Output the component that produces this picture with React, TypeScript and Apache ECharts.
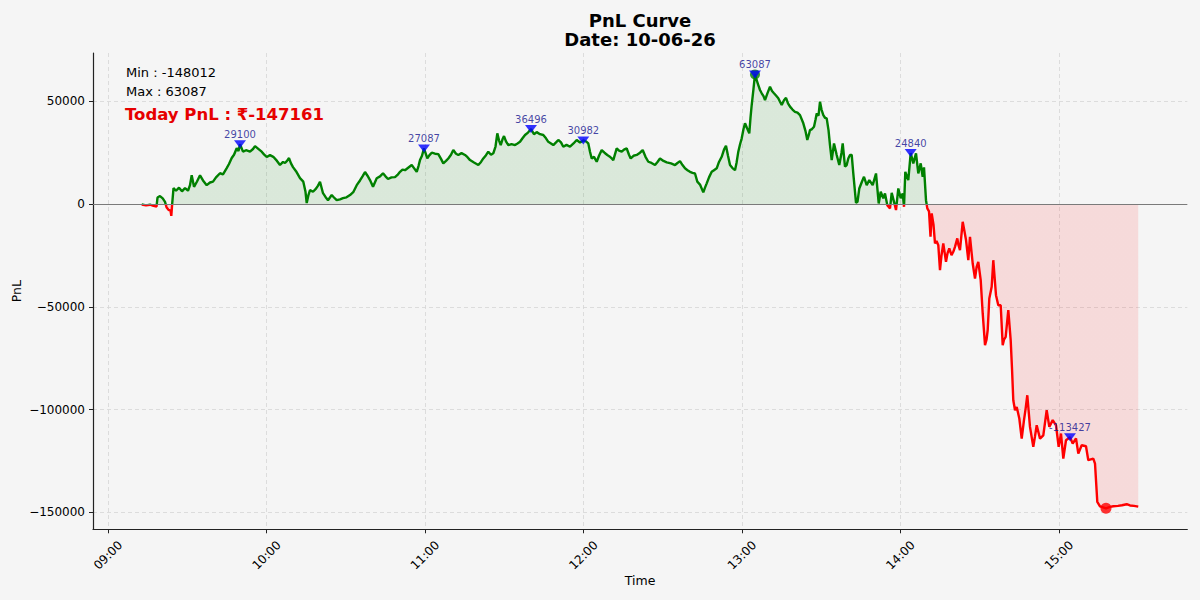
import React, { useEffect, useRef } from "react";
import * as echarts from "echarts";

// Minutes elapsed since 09:00 for each sample
const minutesSince0900: number[] = [
  12.76, 14.38, 15.9, 17.22, 18.36, 18.74, 19.68, 20.71, 21.58, 22.15, 22.9, 23.66, 23.96, 24.34, 24.8,
  25.74, 26.88, 28.01, 29.15, 30.28, 31.04, 31.68, 32.56, 33.69, 34.83, 35.96, 37.36, 38.61, 39.75, 40.88,
  42.4, 43.53, 44.93, 45.8, 46.83, 47.7, 48.72, 49.4, 49.97, 51.1, 52.24, 53.75, 54.89, 55.65, 56.78,
  58.18, 59.05, 60.08, 61.33, 62.57, 63.97, 65.11, 66.25, 67.0, 67.76, 68.52, 69.27, 70.03, 71.17, 72.68,
  73.93, 74.76, 75.22, 75.9, 76.47, 77.6, 78.74, 79.5, 80.25, 81.39, 82.33, 83.28, 84.68, 85.55, 86.57,
  87.82, 88.96, 90.28, 91.61, 92.93, 94.15, 95.39, 96.34, 97.29, 98.23, 99.18, 100.32, 101.72, 102.97, 104.1,
  105.05, 105.99, 107.32, 108.64, 109.59, 110.54, 111.48, 112.43, 113.75, 114.97, 115.84, 116.86, 117.54, 118.11, 118.86,
  119.62, 120.87, 121.7, 122.54, 123.79, 125.03, 126.06, 126.93, 127.95, 128.82, 129.84, 130.71, 131.74, 132.61, 133.82,
  135.14, 136.09, 137.04, 138.55, 140.18, 141.2, 142.07, 143.09, 143.96, 144.98, 145.85, 146.69, 147.37, 148.01, 148.66,
  149.34, 149.91, 150.66, 151.53, 152.75, 154.07, 155.02, 155.96, 156.91, 157.86, 158.99, 160.13, 161.26, 162.28, 163.53,
  164.78, 165.8, 166.67, 167.7, 168.57, 169.59, 170.46, 171.48, 172.35, 173.57, 174.89, 176.21, 177.43, 178.68, 179.93,
  180.95, 181.82, 182.46, 183.1, 183.98, 185.0, 185.87, 186.89, 187.95, 189.01, 189.84, 190.68, 191.28, 192.57, 193.44,
  194.46, 195.33, 196.35, 197.22, 197.87, 198.93, 200.14, 201.39, 202.41, 203.47, 204.53, 205.74, 207.07, 208.01, 208.96,
  210.28, 211.5, 213.12, 214.64, 215.58, 216.53, 217.48, 218.42, 219.37, 220.32, 221.26, 222.21, 223.08, 224.1, 225.35,
  225.99, 226.64, 227.51, 228.53, 229.4, 230.42, 231.29, 232.31, 233.19, 233.94, 234.7, 235.46, 236.4, 237.35, 237.92,
  238.6, 239.24, 239.89, 240.57, 241.14, 241.89, 242.76, 243.22, 243.67, 244.35, 244.92, 245.49, 246.17, 246.81, 247.46,
  248.14, 248.71, 249.65, 250.6, 251.36, 252.11, 252.87, 253.74, 254.39, 255.03, 255.9, 256.66, 257.41, 258.17, 259.12,
  260.06, 261.01, 261.96, 263.21, 264.04, 264.72, 265.36, 265.74, 266.5, 267.26, 267.82, 268.28, 268.96, 269.53, 270.1,
  270.78, 271.42, 272.06, 272.75, 273.31, 273.96, 274.83, 275.85, 276.83, 277.67, 278.12, 278.99, 279.63, 280.24, 280.88,
  281.53, 282.13, 283.16, 283.72, 284.4, 285.43, 286.18, 287.2, 288.19, 289.48, 290.73, 291.75, 292.51, 293.49, 294.13,
  295.0, 296.03, 296.67, 297.54, 298.3, 299.17, 300.08, 300.84, 301.33, 301.82, 302.95, 303.86, 304.85, 305.87, 306.74,
  307.65, 308.4, 308.9, 309.65, 310.15, 310.79, 311.36, 311.81, 312.49, 313.06, 313.63, 314.31, 314.95, 315.52, 316.2,
  317.22, 317.79, 318.47, 319.31, 319.99, 320.63, 321.5, 321.96, 322.52, 323.55, 324.04, 324.8, 325.67, 326.31, 327.33,
  328.2, 328.84, 329.45, 330.36, 331.12, 331.99, 332.56, 333.01, 333.62, 334.52, 335.13, 335.59, 336.15, 337.02, 337.93,
  338.69, 339.18, 339.82, 340.81, 341.71, 342.21, 342.7, 343.35, 343.99, 344.98, 345.88, 346.75, 347.32, 348.0, 349.02,
  350.27, 350.92, 351.56, 352.81, 354.06, 355.34, 356.33, 357.62, 358.87, 359.88, 360.76, 361.63, 362.65, 364.17, 365.19,
  366.44, 367.31, 368.59, 370.22, 371.09, 372.99, 373.63, 374.5, 375.52, 376.66, 377.79, 379.31, 380.56, 382.34, 383.85,
  385.63, 386.88, 388.39, 390.0,
];

// PnL in rupees at each sample
const pnl: number[] = [
  -200, -600, -300, -900, -1200, 3200, 3900, 2800, 1100, -1500, -2800, -3200, -5700, 800, 7800,
  6500, 8000, 6200, 7800, 6500, 9200, 14000, 8400, 11000, 14000, 11500, 9200, 10500, 10900, 13000,
  15000, 14500, 17500, 19500, 22400, 24000, 27200, 25800, 29100, 25500, 26200, 25500, 26800, 28200, 27000,
  25500, 24200, 22900, 23800, 23000, 21000, 19000, 20500, 20000, 21000, 22400, 19800, 18000, 16000, 12600,
  10900, 6000, 500, 4500, 6800, 6000, 7500, 9000, 10900, 5300, 3500, 1900, 4400, 3200, 1900,
  2300, 2900, 3300, 4400, 6000, 9200, 11500, 13500, 15600, 13800, 11700, 8400, 12600, 13500, 15000,
  13500, 12200, 13000, 13100, 14200, 15700, 16800, 16500, 17800, 19000, 17500, 15700, 18500, 21400, 23500,
  27087, 22200, 23800, 25000, 24500, 24300, 22000, 19800, 21000, 22200, 24000, 26300, 24500, 23900, 24800,
  23900, 22800, 21400, 20200, 19000, 20500, 22200, 23800, 25500, 24000, 24700, 28000, 34400, 31000, 28700,
  31500, 33100, 30500, 28700, 29200, 28700, 29500, 30300, 32000, 33600, 34800, 36496, 34000, 35000, 34000,
  33600, 32000, 30300, 29500, 28700, 30000, 31200, 30000, 27900, 28800, 27900, 29500, 31200, 30000, 30982,
  30500, 29500, 25500, 22200, 23000, 20600, 23500, 26300, 25000, 23900, 23200, 22200, 21400, 27100, 26000,
  25500, 26500, 27100, 24000, 22200, 23500, 23900, 25000, 26300, 23000, 20600, 20000, 19000, 20500, 22200,
  21000, 20300, 19800, 19000, 20000, 20900, 19000, 17400, 16500, 15700, 15200, 14900, 10900, 9500, 5700,
  8000, 10100, 13000, 15700, 16500, 17400, 20500, 23000, 26500, 28400, 23500, 19000, 17500, 16500, 20000,
  25500, 29000, 32000, 36500, 39300, 37000, 34400, 42000, 48200, 56000, 63087, 60500, 57900, 55500, 53900,
  52500, 50600, 54000, 57100, 55000, 53900, 52800, 51500, 49800, 48200, 50500, 51700, 49000, 47400, 46000,
  44900, 44500, 43300, 39300, 35500, 31200, 34000, 36000, 36500, 37600, 41000, 44100, 43000, 49800, 46000,
  43300, 42000, 41700, 36000, 28700, 21400, 29500, 23900, 19000, 25000, 29500, 18200, 19000, 22200, 23900,
  23900, 14900, 600, 1100, 7600, 11000, 13300, 9200, 11700, 9200, 14900, 300, 6000, 2800, 5200,
  -500, -2100, 5500, 1100, -2900, 7600, 2800, 5200, -1300, 15700, 11700, 24840, 19800, 24700, 14900,
  19800, 13300, 17900, 1900, -2100, -3500, -15900, -4500, -10000, -19100, -18000, -20000, -32100, -25000, -19100,
  -28100, -24000, -21600, -24800, -23200, -20800, -16700, -20000, -22400, -8600, -12000, -17500, -27300, -15900, -28900,
  -36200, -30500, -28100, -37000, -53200, -68600, -66000, -61300, -45900, -40200, -27300, -35000, -44300, -49200, -49200,
  -68600, -66000, -64600, -51600, -66200, -80000, -95400, -100300, -98700, -104300, -114100, -105100, -100000, -93000, -108400,
  -118100, -113000, -107600, -114100, -112500, -100300, -108400, -105100, -107600, -118100, -111600, -123800, -114900, -113427, -116500,
  -114000, -121400, -117300, -117800, -124600, -123800, -126200, -144900, -147000, -147500, -148012, -147300, -147000, -146800, -146500,
  -146000, -146600, -146800, -147161,
];

// Annotated local peaks
const peakMinutes: number[] = [49.97, 119.62, 160.13, 179.93, 244.92, 303.86, 364.17];
const peakValues: number[] = [29100, 27087, 36496, 30982, 63087, 24840, -113427];

const maxMinute = 244.92;
const maxValue = 63087;
const minMinute = 377.79;
const minValue = -148012;
const todayPnl = -147161;
const chartTitle = "PnL Curve";
const chartDate = "Date: 10-06-26";

const FONT = "DejaVu Sans";

const toHour = (m: number) => 9 + m / 60;

function fmtHour(v: number): string {
  const total = Math.round(v * 60);
  const h = Math.floor(total / 60);
  const m = total % 60;
  return String(h).padStart(2, "0") + ":" + String(m).padStart(2, "0");
}

export default function App() {
  const ref = useRef<HTMLDivElement>(null);

  useEffect(() => {
    document.body.style.margin = "0";
    document.body.style.background = "#f5f5f5";
    if (!ref.current) return;
    const chart = echarts.init(ref.current, undefined, { renderer: "svg" });

    const lineData = minutesSince0900.map((m, i) => [toHour(m), pnl[i]]);
    const peakData = peakMinutes.map((m, i) => [toHour(m), peakValues[i]]);

    const option: any = {
      animation: false,
      backgroundColor: "#f5f5f5",
      grid: { left: 93, right: 12.7, top: 53, bottom: 70.7, containLabel: false },
      xAxis: {
        type: "value",
        min: 8.9053,
        max: 15.8095,
        minInterval: 1,
        maxInterval: 1,
        name: "Time",
        nameLocation: "middle",
        nameGap: 45,
        nameMoveOverlap: false,
        nameTextStyle: { fontFamily: FONT, fontSize: 12.5, color: "#000" },
        axisLine: { onZero: false, lineStyle: { color: "#222", width: 1.2 } },
        axisTick: { show: true, length: 4, lineStyle: { color: "#222", width: 1 } },
        axisLabel: {
          showMinLabel: false,
          showMaxLabel: false,
          rotate: 45,
          align: "center",
          verticalAlign: "middle",
          margin: 26,
          formatter: (v: number) => fmtHour(v),
          fontSize: 12,
          fontFamily: FONT,
          color: "#000",
        },
        splitLine: {
          show: true,
          showMinLine: false,
          showMaxLine: false,
          lineStyle: { color: "#d6d6d6", type: [4, 3], width: 0.8 },
        },
      },
      yAxis: {
        type: "value",
        min: -158200,
        max: 73500,
        minInterval: 50000,
        maxInterval: 50000,
        name: "PnL",
        nameLocation: "middle",
        nameGap: 70,
        nameMoveOverlap: false,
        nameRotate: 90,
        nameTextStyle: { fontFamily: FONT, fontSize: 12.5, color: "#000" },
        axisLine: { show: true, lineStyle: { color: "#222", width: 1.2 } },
        axisTick: { show: true, length: 4, lineStyle: { color: "#222", width: 1 } },
        axisLabel: {
          showMinLabel: false,
          showMaxLabel: false,
          margin: 8,
          formatter: (v: number) => String(v).replace("-", "\u2212"),
          fontSize: 12,
          fontFamily: FONT,
          color: "#000",
        },
        splitLine: {
          show: true,
          showMinLine: false,
          showMaxLine: false,
          lineStyle: { color: "#d6d6d6", type: [4, 3], width: 0.8 },
        },
      },
      visualMap: {
        show: false,
        type: "piecewise",
        dimension: 1,
        seriesIndex: 0,
        pieces: [
          { min: -1000000, max: 0, color: "#ff0000" },
          { gt: 0, lte: 1000000, color: "#008000" },
        ],
        outOfRange: { color: "#008000" },
      },
      series: [
        {
          type: "line",
          data: lineData,
          showSymbol: false,
          symbol: "none",
          lineStyle: { width: 2.4 },
          areaStyle: { opacity: 0.11 },
          z: 2,
          markLine: {
            silent: true,
            symbol: ["none", "none"],
            label: { show: false },
            lineStyle: { color: "#7a7a7a", width: 1.2, type: "solid" },
            data: [{ yAxis: 0 }],
          },
        },
        {
          type: "scatter",
          data: [[toHour(maxMinute), maxValue]],
          symbol: "circle",
          symbolSize: 10,
          itemStyle: { color: "#008000" },
          z: 4,
        },
        {
          type: "scatter",
          data: [[toHour(minMinute), minValue]],
          symbol: "circle",
          symbolSize: 11,
          itemStyle: { color: "#ff0000" },
          z: 4,
        },
        {
          type: "scatter",
          data: peakData,
          symbol: "triangle",
          symbolRotate: 180,
          symbolSize: [12, 8],
          itemStyle: { color: "#0000ff" },
          z: 5,
          label: {
            show: true,
            position: "top",
            distance: 1,
            formatter: (p: any) => String(p.value[1]),
            fontSize: 10,
            fontFamily: FONT,
            color: "#14148f",
          },
        },
      ],
      graphic: [
        {
          type: "text",
          x: 640,
          y: 20,
          style: { text: chartTitle, fontSize: 18, fontWeight: "bold", fontFamily: FONT, fill: "#000", align: "center", verticalAlign: "middle" },
        },
        {
          type: "text",
          x: 640,
          y: 39.5,
          style: { text: chartDate, fontSize: 18, fontWeight: "bold", fontFamily: FONT, fill: "#000", align: "center", verticalAlign: "middle" },
        },
        {
          type: "text",
          x: 126,
          y: 72.5,
          style: { text: "Min : " + minValue, fontSize: 13, fontFamily: FONT, fill: "#000", align: "left", verticalAlign: "middle" },
        },
        {
          type: "text",
          x: 126,
          y: 91,
          style: { text: "Max : " + maxValue, fontSize: 13, fontFamily: FONT, fill: "#000", align: "left", verticalAlign: "middle" },
        },
        {
          type: "text",
          x: 125,
          y: 114,
          style: { text: "Today PnL : \u20b9" + todayPnl, fontSize: 16.5, fontWeight: "bold", fontFamily: FONT, fill: "#e60000", align: "left", verticalAlign: "middle" },
        },
      ],
    };

    chart.setOption(option);
    return () => chart.dispose();
  }, []);

  return (
    <div
      ref={ref}
      style={{ position: "absolute", left: 0, top: 0, width: 1200, height: 600, background: "#f5f5f5" }}
    />
  );
}
